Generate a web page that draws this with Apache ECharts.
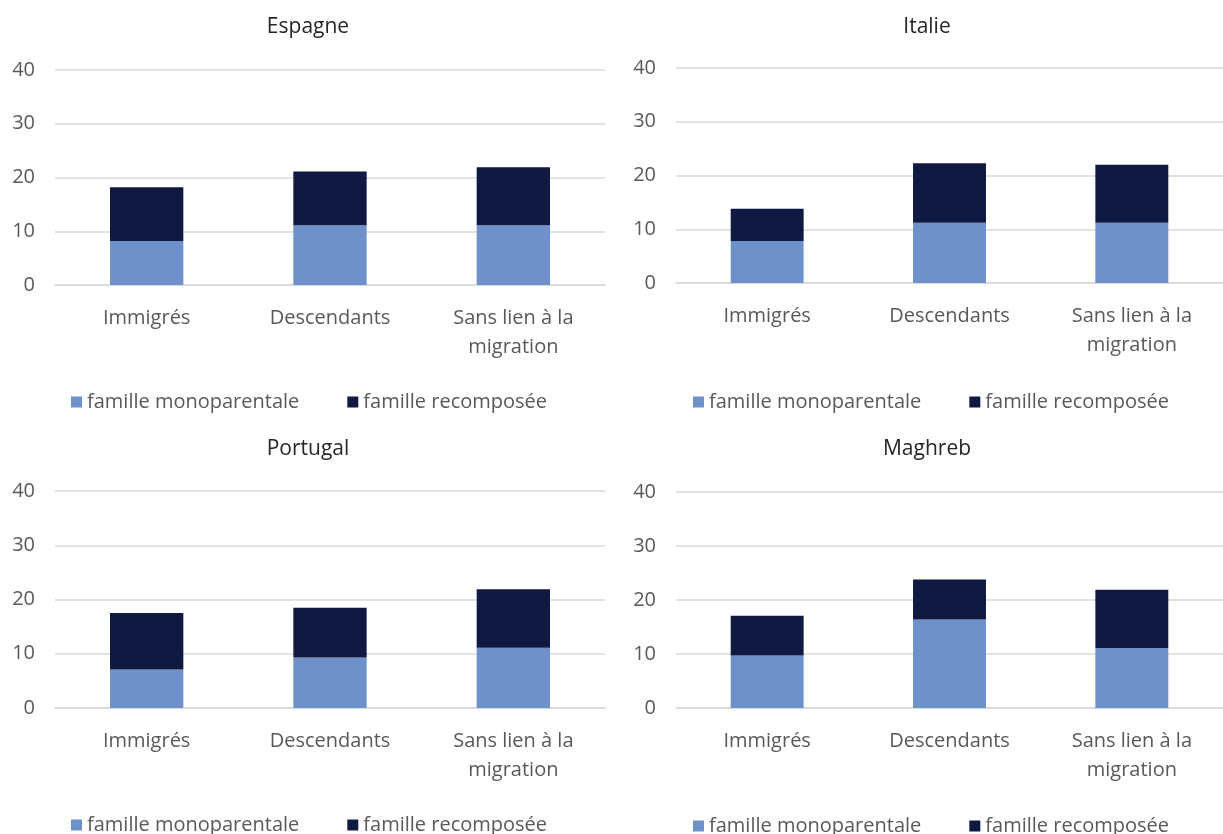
<!DOCTYPE html>
<html>
<head>
<meta charset="utf-8">
<script src="https://cdn.jsdelivr.net/npm/echarts@6/dist/echarts.min.js"></script>
<style>
html,body{margin:0;padding:0;background:#fff;}
#chart{width:1223px;height:834px;}
</style>
</head>
<body>
<div id="chart"></div>
<script>
const categories = ['Immigrés', 'Descendants', 'Sans lien à la migration'];
const panelTitles = ['Espagne', 'Italie', 'Portugal', 'Maghreb'];
const seriesNames = ['famille monoparentale', 'famille recomposée'];
const yTicks = [0, 10, 20, 30, 40];

const espagneMono = [8.2, 11.1, 11.1];
const espagneRecomp = [10.0, 10.0, 10.8];
const italieMono = [7.8, 11.2, 11.2];
const italieRecomp = [6.0, 11.1, 10.8];
const portugalMono = [7.1, 9.3, 11.1];
const portugalRecomp = [10.4, 9.2, 10.8];
const maghrebMono = [9.7, 16.4, 11.1];
const maghrebRecomp = [7.4, 7.4, 10.8];

const monoData = [espagneMono, italieMono, portugalMono, maghrebMono];
const recompData = [espagneRecomp, italieRecomp, portugalRecomp, maghrebRecomp];

const colors = ['#6E91C9', '#0F1941'];
const font = '"Open Sans", "Noto Sans", sans-serif';
const labelColor = '#595959';

const grids = [
  {left: 55, right: 618, top: 70, bottom: 549},
  {left: 676, right: 0, top: 68, bottom: 551},
  {left: 55, right: 618, top: 491, bottom: 126},
  {left: 676, right: 0, top: 492, bottom: 126}
];
const titlePos = [
  {left: 303, top: 12},
  {left: 922, top: 12},
  {left: 303, top: 434},
  {left: 922, top: 434}
];
const legendPos = [
  {left: 66, top: 387},
  {left: 688, top: 387},
  {left: 66, top: 810},
  {left: 688, top: 811}
];

const option = {
  animation: false,
  backgroundColor: '#ffffff',
  title: panelTitles.map((t, i) => ({
    text: t,
    left: titlePos[i].left,
    top: titlePos[i].top,
    textAlign: 'center',
    textStyle: {fontFamily: font, fontSize: 21, fontWeight: 'normal', color: '#262626'}
  })),
  legend: legendPos.map(p => ({
    data: seriesNames,
    left: p.left,
    top: p.top,
    itemWidth: 11,
    itemHeight: 11,
    itemGap: 48,
    icon: 'rect',
    textStyle: {fontFamily: font, fontSize: 20, color: labelColor},
    selectedMode: false
  })),
  grid: grids,
  xAxis: grids.map((g, i) => ({
    type: 'category',
    gridIndex: i,
    data: categories,
    axisTick: {show: false},
    axisLine: {show: true, lineStyle: {color: '#D9D9D9', width: 1.5}},
    axisLabel: {
      fontFamily: font, fontSize: 20, color: labelColor, margin: 19, lineHeight: 29,
      interval: 0,
      formatter: v => v === 'Sans lien à la migration' ? 'Sans lien à la\nmigration' : v
    }
  })),
  yAxis: grids.map((g, i) => ({
    type: 'value',
    gridIndex: i,
    min: yTicks[0],
    max: yTicks[yTicks.length - 1],
    interval: 10,
    axisLine: {show: false},
    axisTick: {show: false},
    splitLine: {lineStyle: {color: '#D9D9D9', width: 1.5}},
    axisLabel: {fontFamily: font, fontSize: 20, color: labelColor, margin: 20}
  })),
  series: []
};

for (let i = 0; i < 4; i++) {
  option.series.push({
    name: seriesNames[0], type: 'bar', stack: 's' + i,
    xAxisIndex: i, yAxisIndex: i, barWidth: '40%',
    itemStyle: {color: colors[0]},
    data: monoData[i]
  });
  option.series.push({
    name: seriesNames[1], type: 'bar', stack: 's' + i,
    xAxisIndex: i, yAxisIndex: i, barWidth: '40%',
    itemStyle: {color: colors[1]},
    data: recompData[i]
  });
}

const chart = echarts.init(document.getElementById('chart'));
chart.setOption(option);
</script>
</body>
</html>
